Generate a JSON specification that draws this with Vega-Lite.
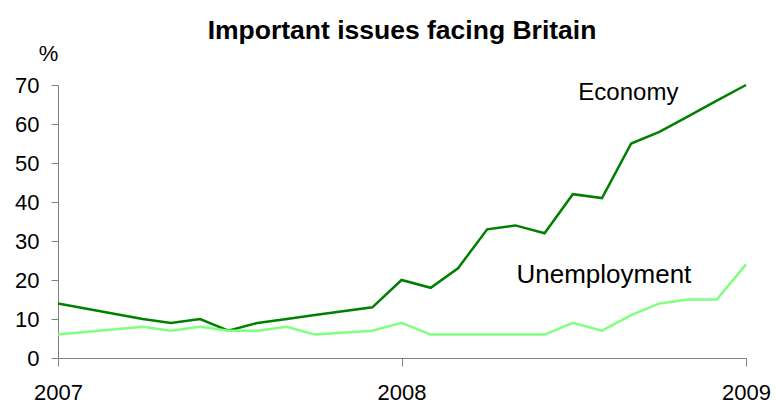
{
  "$schema": "https://vega.github.io/schema/vega-lite/v6.json",
  "width": 688,
  "height": 273,
  "autosize": "none",
  "padding": {"left": 58, "top": 85, "right": 30, "bottom": 46},
  "background": "white",
  "config": {
    "font": "Liberation Sans",
    "view": {"stroke": null},
    "axis": {"grid": false, "domainColor": "#808080", "tickColor": "#808080", "labelColor": "#000000", "labelFont": "Liberation Sans", "labelFontSize": 22, "titleFont": "Liberation Sans", "labelOverlap": false}
  },
  "title": {
    "text": "Important issues facing Britain",
    "font": "Liberation Sans",
    "fontSize": 26.5,
    "fontWeight": "bold",
    "color": "#000000",
    "anchor": "middle",
    "baseline": "alphabetic",
    "offset": 6,
    "dy": 29
  },
  "datasets": {
    "series": [
      {"issue": "Economy", "date": "2007-01-01", "pct": 14},
      {"issue": "Economy", "date": "2007-04-01", "pct": 10},
      {"issue": "Economy", "date": "2007-05-01", "pct": 9},
      {"issue": "Economy", "date": "2007-06-01", "pct": 10},
      {"issue": "Economy", "date": "2007-07-01", "pct": 7},
      {"issue": "Economy", "date": "2007-08-01", "pct": 9},
      {"issue": "Economy", "date": "2007-09-01", "pct": 10},
      {"issue": "Economy", "date": "2007-10-01", "pct": 11},
      {"issue": "Economy", "date": "2007-12-01", "pct": 13},
      {"issue": "Economy", "date": "2008-01-01", "pct": 20},
      {"issue": "Economy", "date": "2008-02-01", "pct": 18},
      {"issue": "Economy", "date": "2008-03-01", "pct": 23},
      {"issue": "Economy", "date": "2008-04-01", "pct": 33},
      {"issue": "Economy", "date": "2008-05-01", "pct": 34},
      {"issue": "Economy", "date": "2008-06-01", "pct": 32},
      {"issue": "Economy", "date": "2008-07-01", "pct": 42},
      {"issue": "Economy", "date": "2008-08-01", "pct": 41},
      {"issue": "Economy", "date": "2008-09-01", "pct": 55},
      {"issue": "Economy", "date": "2008-10-01", "pct": 58},
      {"issue": "Economy", "date": "2008-11-01", "pct": 62},
      {"issue": "Economy", "date": "2008-12-01", "pct": 66},
      {"issue": "Economy", "date": "2009-01-01", "pct": 70},
      {"issue": "Unemployment", "date": "2007-01-01", "pct": 6},
      {"issue": "Unemployment", "date": "2007-04-01", "pct": 8},
      {"issue": "Unemployment", "date": "2007-05-01", "pct": 7},
      {"issue": "Unemployment", "date": "2007-06-01", "pct": 8},
      {"issue": "Unemployment", "date": "2007-07-01", "pct": 7},
      {"issue": "Unemployment", "date": "2007-08-01", "pct": 7},
      {"issue": "Unemployment", "date": "2007-09-01", "pct": 8},
      {"issue": "Unemployment", "date": "2007-10-01", "pct": 6},
      {"issue": "Unemployment", "date": "2007-12-01", "pct": 7},
      {"issue": "Unemployment", "date": "2008-01-01", "pct": 9},
      {"issue": "Unemployment", "date": "2008-02-01", "pct": 6},
      {"issue": "Unemployment", "date": "2008-03-01", "pct": 6},
      {"issue": "Unemployment", "date": "2008-04-01", "pct": 6},
      {"issue": "Unemployment", "date": "2008-05-01", "pct": 6},
      {"issue": "Unemployment", "date": "2008-06-01", "pct": 6},
      {"issue": "Unemployment", "date": "2008-07-01", "pct": 9},
      {"issue": "Unemployment", "date": "2008-08-01", "pct": 7},
      {"issue": "Unemployment", "date": "2008-09-01", "pct": 11},
      {"issue": "Unemployment", "date": "2008-10-01", "pct": 14},
      {"issue": "Unemployment", "date": "2008-11-01", "pct": 15},
      {"issue": "Unemployment", "date": "2008-12-01", "pct": 15},
      {"issue": "Unemployment", "date": "2009-01-01", "pct": 24}
    ],
    "labels": [
      {"issue": "Economy", "date": "2008-08-29", "pct": 68, "size": 24},
      {"issue": "Unemployment", "date": "2008-08-03", "pct": 21.3, "size": 26}
    ]
  },
  "encoding": {
    "x": {
      "field": "date",
      "type": "temporal",
      "scale": {"type": "utc", "domain": ["2007-01-01", "2009-01-01"]},
      "axis": {"title": null, "format": "%Y", "tickCount": {"interval": "year", "step": 1}, "tickSize": 8, "labelPadding": 16, "labelFlush": false, "labelBound": false, "labelOverlap": false}
    },
    "y": {
      "field": "pct",
      "type": "quantitative",
      "scale": {"domain": [0, 70], "nice": false},
      "axis": {"title": "%", "values": [0, 10, 20, 30, 40, 50, 60, 70], "tickCount": 8, "tickSize": 7, "labelPadding": 12, "labelOverlap": false, "labelBound": false, "titleAngle": 0, "titleX": -10, "titleY": -25, "titleAlign": "center", "titleBaseline": "alphabetic", "titleFontWeight": "normal", "titleFontSize": 22, "titleColor": "#000000"}
    }
  },
  "layer": [
    {
      "data": {"name": "series"},
      "mark": {"type": "line", "strokeWidth": 2.5, "strokeJoin": "miter", "clip": false},
      "encoding": {
        "color": {
          "field": "issue",
          "type": "nominal",
          "scale": {"domain": ["Economy", "Unemployment"], "range": ["#008000", "#80FF80"]},
          "legend": null
        }
      }
    },
    {
      "data": {"name": "labels"},
      "mark": {"type": "text", "color": "#000000", "align": "center", "baseline": "middle", "font": "Liberation Sans"},
      "encoding": {
        "text": {"field": "issue", "type": "nominal"},
        "size": {"field": "size", "type": "quantitative", "scale": null, "legend": null}
      }
    }
  ]
}
